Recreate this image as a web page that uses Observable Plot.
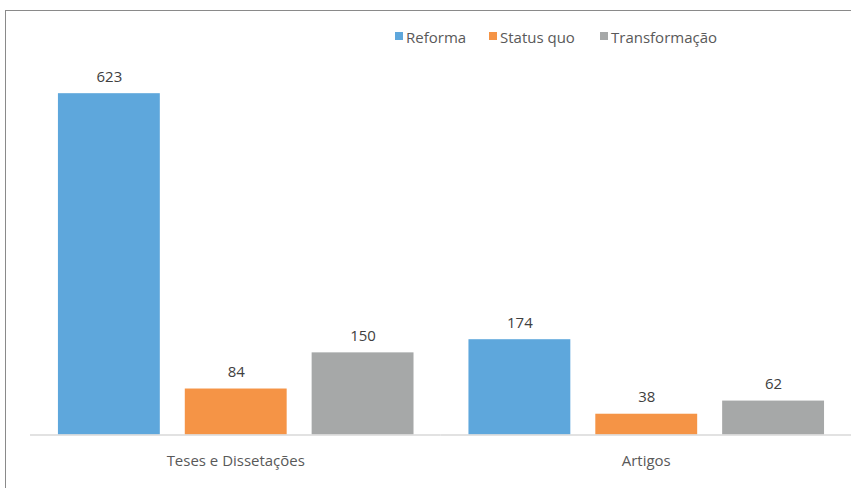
<!DOCTYPE html>
<html>
<head>
<meta charset="utf-8">
<script src="https://cdn.jsdelivr.net/npm/d3@7"></script>
<script src="https://cdn.jsdelivr.net/npm/@observablehq/plot@0.6"></script>
<style>
  html, body { margin: 0; padding: 0; background: #fff; width: 851px; height: 488px; overflow: hidden; }
  #wrap { position: relative; width: 851px; height: 488px; }
  #frame { position: absolute; left: 5px; top: 10px; width: 900px; height: 520px; border: 1.5px solid #8a8a8a; box-sizing: border-box; pointer-events: none; }
  #legend { position: absolute; left: 0; top: 0; width: 851px; height: 50px; font-family: "Open Sans", sans-serif; font-size: 15px; color: #595959; }
  .item { position: absolute; top: 27px; display: flex; align-items: center; white-space: nowrap; }
  .sw { width: 8px; height: 8px; margin-right: 3px; margin-top: -3px; }
  #chart { position: absolute; left: 0; top: 50px; }
</style>
</head>
<body>
<div id="wrap">
  <div id="legend"></div>
  <div id="chart"></div>
  <div id="frame"></div>
</div>
<script>
const categories = ["Teses e Dissetações", "Artigos"];
const seriesNames = ["Reforma", "Status quo", "Transformação"];
const seriesColors = ["#5ea7dc", "#f59446", "#a6a8a8"];
const reformaValues = [623, 174];
const statusQuoValues = [84, 38];
const transformacaoValues = [150, 62];
const legendLeft = [395, 489, 600];

const seriesValues = [reformaValues, statusQuoValues, transformacaoValues];
const data = [];
categories.forEach((c, ci) => {
  seriesNames.forEach((s, si) => {
    data.push({category: c, series: s, value: seriesValues[si][ci]});
  });
});

const legend = document.getElementById("legend");
seriesNames.forEach((s, i) => {
  const it = document.createElement("div");
  it.className = "item";
  it.style.left = legendLeft[i] + "px";
  it.innerHTML = `<span class="sw" style="background:${seriesColors[i]}"></span><span>${s}</span>`;
  legend.appendChild(it);
});

const chart = Plot.plot({
  width: 852,
  height: 438,
  marginLeft: 30,
  marginRight: 0,
  marginTop: 1,
  marginBottom: 53,
  style: {fontFamily: "'Open Sans', sans-serif", background: "transparent", overflow: "visible"},
  fx: {domain: categories, padding: 0, label: null},
  x: {domain: seriesNames, paddingInner: 0.2, paddingOuter: 0.21, axis: null},
  y: {domain: [0, 700], axis: null},
  color: {domain: seriesNames, range: seriesColors},
  marks: [
    Plot.barY(data, {fx: "category", x: "series", y: "value", fill: "series"}),
    Plot.ruleY([0], {stroke: "#d9d9d9", strokeWidth: 1.5}),
    Plot.text(data, {fx: "category", x: "series", y: "value", text: d => String(d.value), dy: -17, fontSize: 15, fill: "#404040"}),
    Plot.axisFx({anchor: "bottom", tickSize: 0, tickPadding: 20, fontSize: 15, color: "#595959", label: null})
  ]
});
document.getElementById("chart").appendChild(chart);
</script>
</body>
</html>
